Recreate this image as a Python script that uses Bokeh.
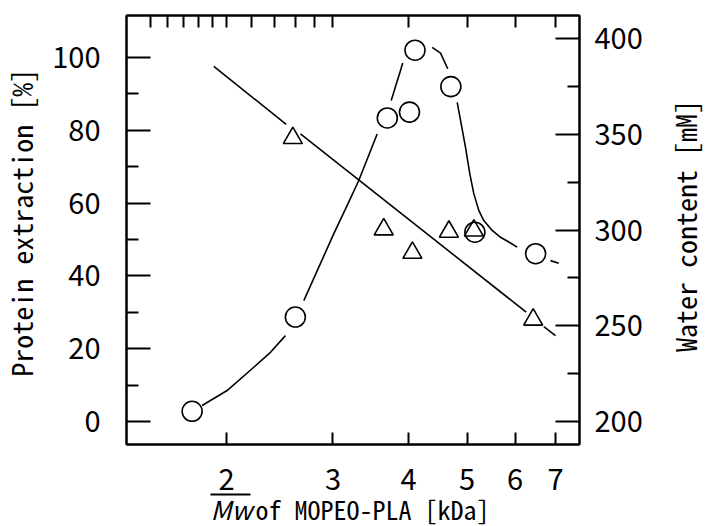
import math
from bokeh.plotting import figure
from bokeh.layouts import column, row
from bokeh.models import (Range1d, LogAxis, LinearAxis, FixedTicker, PrintfTickFormatter, Label)
from bokeh.embed import file_html
from bokeh.resources import INLINE

FONT = "'Noto Sans Mono CJK JP', 'DejaVu Sans Mono', monospace"
TICK_FONT = "'Noto Sans CJK JP', 'Noto Sans', sans-serif"

# ---- data ----
circle_mw = [1.755, 2.60, 3.69, 4.015, 4.10, 4.70, 5.15, 6.49]
protein = [2.8, 28.7, 83.4, 85.0, 102.0, 92.0, 52.0, 46.1]

tri_mw = [2.575, 3.64, 4.06, 4.665, 5.13, 6.43]
water = [348.0, 300.3, 288.1, 299.1, 299.7, 253.2]

# guide curve through protein extraction (pieces between the markers)
curve_x = [[1.823, 2.005, 2.219, 2.365, 2.504],
           [2.685, 3.010, 3.139, 3.310, 3.550],
           [3.745, 3.914],
           [4.378, 4.519, 4.645],
           [4.815, 4.969, 5.051, 5.129, 5.227, 5.328, 5.501, 5.678, 5.860, 6.050],
           [6.868, 7.088]]
curve_y = [[4.4, 8.5, 14.9, 19.0, 23.6],
           [33.2, 51.6, 58.0, 66.2, 79.0],
           [88.2, 98.5],
           [102.8, 101.2, 96.9],
           [87.7, 75.4, 68.1, 62.6, 58.0, 55.2, 52.5, 50.6, 49.3, 47.9],
           [44.2, 43.5]]

# straight trend line through water content (pieces between the markers)
wfit_x = [[1.906, 2.511], [2.651, 6.261], [6.695, 7.0]]
wfit_y = [[385.5, 355.1], [350.2, 257.1], [249.6, 244.9]]

x_ticks = [2, 3, 4, 5, 6, 7]
top_ticks = [1.5, 1.6, 1.7, 1.8, 1.9, 2, 2.2, 2.4, 2.6, 2.8, 3, 4, 5, 6, 7]
left_ticks = [0, 20, 40, 60, 80, 100]
left_minor = [10, 30, 50, 70, 90]
right_ticks = [200, 250, 300, 350, 400]
right_minor = [225, 275, 325, 375]

x_title_sym = "Mw"
x_title_main = "of MOPEO-PLA [kDa]"
y_title_left = "Protein extraction [%]"
y_title_right = "Water content [mM]"

# ---- layout sizes (pixels) ----
LW, MW, RW = 48, 600, 60          # left title, main plot, right title widths
H = 526                           # full height
XH = 40                           # x-title strip, laid over the bottom of the row

# ---- main plot ----
p = figure(width=MW, height=H, x_axis_type="log",
           x_range=Range1d(1.367, 7.67), y_range=Range1d(-6.32, 111.54),
           output_backend="svg", toolbar_location=None,
           x_axis_location=None, y_axis_location=None)
p.extra_y_ranges = {"water": Range1d(188.0, 412.0)}
p.min_border_left = 126 - LW
p.min_border_right = LW + MW - 579
p.min_border_top = 15
p.min_border_bottom = H - 444
p.outline_line_color = "black"
p.outline_line_width = 2
p.background_fill_color = "white"
p.border_fill_color = "white"
for g in p.grid:
    g.visible = False


def style_axis(ax, tick_in, minor_in=0):
    ax.axis_line_color = "black"
    ax.axis_line_width = 2
    ax.major_tick_line_color = "black"
    ax.major_tick_line_width = 2
    ax.major_tick_in = tick_in
    ax.major_tick_out = 0
    ax.minor_tick_line_color = "black"
    ax.minor_tick_line_width = 2
    ax.minor_tick_in = minor_in
    ax.minor_tick_out = 0
    ax.major_label_text_font = TICK_FONT
    ax.major_label_text_font_size = "29px"
    ax.major_label_text_color = "black"


bottom = LogAxis(ticker=FixedTicker(ticks=x_ticks), formatter=PrintfTickFormatter(format="%d"))
style_axis(bottom, 12)
bottom.major_label_standoff = 24
p.add_layout(bottom, "below")

top = LogAxis(ticker=FixedTicker(ticks=top_ticks), formatter=PrintfTickFormatter(format=""))
style_axis(top, 12)
top.major_label_text_font_size = "0px"
top.major_label_standoff = 0
p.add_layout(top, "above")

left = LinearAxis(ticker=FixedTicker(ticks=left_ticks, minor_ticks=left_minor))
style_axis(left, 24, 12)
left.major_label_standoff = 26
p.add_layout(left, "left")

right = LinearAxis(y_range_name="water",
                   ticker=FixedTicker(ticks=right_ticks, minor_ticks=right_minor))
style_axis(right, 24, 12)
right.major_label_standoff = 15
p.add_layout(right, "right")

p.multi_line(curve_x, curve_y, line_color="black", line_width=1.6)
p.multi_line(wfit_x, wfit_y, line_color="black", line_width=1.6, y_range_name="water")
p.scatter(circle_mw, protein, marker="circle", size=20, fill_color=None,
          line_color="black", line_width=1.6)
p.scatter(tri_mw, water, marker="triangle", size=19, fill_color=None,
          line_color="black", line_width=1.6, y_range_name="water")


def strip(w, h, fill="white"):
    f = figure(width=w, height=h, x_range=Range1d(0, w), y_range=Range1d(0, h),
               output_backend="svg", toolbar_location=None,
               x_axis_location=None, y_axis_location=None)
    f.min_border = 0
    f.outline_line_color = None
    f.background_fill_color = fill
    f.border_fill_color = fill
    for g in f.grid:
        g.visible = False
    return f


# ---- left title strip ----
lf = strip(LW, H)
lf.add_layout(Label(x=20, y=H - 254, text=y_title_left, angle=math.pi / 2,
                    text_align="center", text_baseline="middle", text_font=FONT,
                    text_font_size="28px", text_color="black"))

# ---- right title strip ----
rf = strip(RW, H)
rf.add_layout(Label(x=684 - LW - MW, y=H - 258, text=y_title_right, angle=math.pi / 2,
                    text_align="center", text_baseline="middle", text_font=FONT,
                    text_font_size="28px", text_color="black"))

# ---- x title strip (transparent, laid over the bottom of the row) ----
XW = LW + MW + RW
xf = strip(XW, XH, fill=None)
xf.styles = {"margin-top": f"-{XH}px"}
xf.add_layout(Label(x=210, y=H - 507.5, text=x_title_sym, text_align="left",
                    text_baseline="alphabetic", text_font=TICK_FONT,
                    text_font_style="italic", text_font_size="26px", text_color="black"))
xf.add_layout(Label(x=255, y=H - 507.5, text=x_title_main, text_align="left",
                    text_baseline="alphabetic", text_font=FONT,
                    text_font_size="26px", text_color="black"))
xf.segment(x0=[210], y0=[H - 494], x1=[250], y1=[H - 494],
           line_color="black", line_width=2)

layout = column(row(lf, p, rf), xf)
open("out.html", "w").write(file_html(layout, INLINE))
